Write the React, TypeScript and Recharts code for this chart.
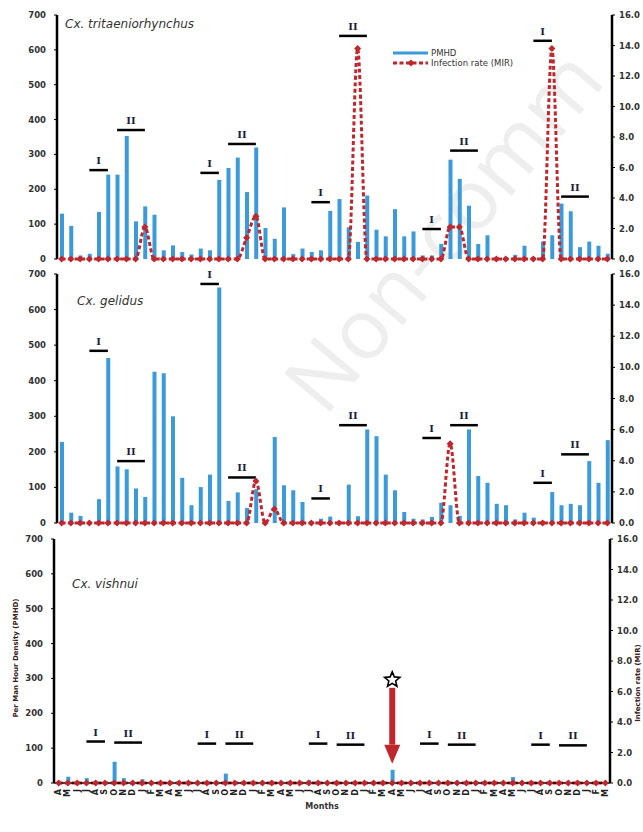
import React from "react";
import {
    ComposedChart,
    Bar,
    Line,
    XAxis,
    YAxis,
    ReferenceLine,
    ReferenceDot,
} from "recharts";

// month initials, April to March, five seasons
const yearMonths = ["A", "M", "J", "J", "A", "S", "O", "N", "D", "J", "F", "M"];
const monthTicks = [1, 2, 3, 4, 5].flatMap(() => yearMonths);

const leftTicks = [0, 100, 200, 300, 400, 500, 600, 700];
const rightTicks = [0, 2, 4, 6, 8, 10, 12, 14, 16];

// Cx. tritaeniorhynchus
const tritPmhd = [
    130, 95, 10, 15, 135, 242, 242, 353, 108, 151,
    127, 25, 39, 20, 13, 30, 25, 227, 261, 291,
    192, 320, 89, 58, 148, 14, 30, 20, 25, 138,
    172, 91, 49, 182, 84, 65, 143, 65, 79, 10,
    10, 43, 285, 230, 153, 43, 68, 5, 5, 12,
    38, 5, 50, 68, 159, 137, 34, 50, 38, 15,
];
const tritMir = [
    0, 0, 0, 0, 0, 0, 0, 0, 0, 2.1,
    0, 0, 0, 0, 0, 0, 0, 0, 0, 0,
    1.4, 2.8, 0, 0, 0, 0, 0, 0, 0, 0,
    0, 0, 13.8, 0, 0, 0, 0, 0, 0, 0,
    0, 0, 2.1, 2.1, 0, 0, 0, 0, 0, 0,
    0, 0, 0, 13.8, 0, 0, 0, 0, 0, 0,
];

// Cx. gelidus
const gelPmhd = [
    228, 29, 20, 0, 67, 464, 159, 151, 97, 73,
    425, 421, 300, 127, 50, 101, 136, 662, 62, 86,
    42, 95, 5, 242, 106, 92, 59, 5, 12, 18,
    3, 108, 19, 263, 244, 136, 92, 31, 12, 10,
    17, 57, 50, 20, 263, 132, 113, 54, 50, 10,
    29, 15, 5, 87, 50, 54, 50, 174, 113, 233,
];
const gelMir = [
    0, 0, 0, 0, 0, 0, 0, 0, 0, 0,
    0, 0, 0, 0, 0, 0, 0, 0, 0, 0,
    0, 2.7, 0, 0.9, 0, 0, 0, 0, 0, 0,
    0, 0, 0, 0, 0, 0, 0, 0, 0, 0,
    0, 0, 5.1, 0, 0, 0, 0, 0, 0, 0,
    0, 0, 0, 0, 0, 0, 0, 0, 0, 0,
];

// Cx. vishnui
const visPmhd = [
    0, 18, 6, 14, 0, 0, 61, 14, 0, 11,
    0, 0, 0, 0, 0, 0, 0, 0, 27, 0,
    0, 0, 0, 0, 0, 0, 0, 8, 0, 0,
    0, 0, 0, 0, 0, 0, 38, 0, 0, 0,
    0, 0, 0, 0, 0, 0, 0, 0, 0, 17,
    0, 0, 0, 0, 0, 0, 0, 0, 0, 0,
];
const visMir = [
    0, 0, 0, 0, 0, 0, 0, 0, 0, 0,
    0, 0, 0, 0, 0, 0, 0, 0, 0, 0,
    0, 0, 0, 0, 0, 0, 0, 0, 0, 0,
    0, 0, 0, 0, 0, 0, 0, 0, 0, 0,
    0, 0, 0, 0, 0, 0, 0, 0, 0, 0,
    0, 0, 0, 0, 0, 0, 0, 0, 0, 0,
];

// transmission phases I / II
const phaseLabels = ["I", "II", "I", "II", "I", "II", "I", "II", "I", "II"];
const phaseStart = [3, 6, 15, 18, 27, 30, 39, 42, 51, 54];
const phaseEnd = [5, 9, 17, 21, 29, 33, 41, 45, 53, 57];
const tritPhaseLevel = [255, 370, 247, 330, 163, 640, 86, 311, 626, 179];
const gelPhaseLevel = [484, 174, 672, 128, 69, 275, 239, 275, 113, 193];
const visPhaseLevel = [119, 116, 113, 113, 113, 110, 113, 110, 110, 108];

// JEV positive pool marker in Cx. vishnui
const arrowIndex = 36;
const arrowTop = 273;
const arrowBase = 110;
const starLevel = 296;

const BLUE = "#3b9ad9";
const RED = "#c0272d";
const TICK = { fontSize: 8.5, fill: "#333", fontWeight: "bold" as const };

const Diamond = (props: any) => {
    const { cx, cy, index } = props;
    if (cx == null || cy == null) return null;
    return (
        <path
            key={`dm-${index}`}
            d={`M${cx},${cy - 3.5}L${cx + 3.5},${cy}L${cx},${cy + 3.5}L${cx - 3.5},${cy}Z`}
            fill={RED}
        />
    );
};

const MonthTick = (props: any) => {
    const { x, y, payload } = props;
    return (
        <text
            x={x}
            y={y}
            transform={`rotate(-90 ${x} ${y})`}
            textAnchor="end"
            dominantBaseline="central"
            fontSize={8}
            fontWeight="bold"
            fill="#222"
        >
            {monthTicks[payload.value]}
        </text>
    );
};

const ArrowHead = (props: any) => {
    const { cx, cy } = props;
    return <polygon points={`${cx - 8},${cy} ${cx + 8},${cy} ${cx},${cy + 19}`} fill={RED} />;
};

const Star = (props: any) => {
    const { cx, cy } = props;
    const pts: string[] = [];
    for (let k = 0; k < 10; k++) {
        const r = k % 2 === 0 ? 8 : 3.6;
        const a = -Math.PI / 2 + (k * Math.PI) / 5;
        pts.push(`${cx + r * Math.cos(a)},${cy + r * Math.sin(a)}`);
    }
    return <polygon points={pts.join(" ")} fill="#fff" stroke="#000" strokeWidth={1.6} />;
};

type PanelProps = {
    pmhd: number[];
    mir: number[];
    levels: number[];
    top: number;
    height: number;
    marginTop: number;
    marginBottom: number;
    leftW: number;
    rightW: number;
    showMonths?: boolean;
    children?: React.ReactNode;
};

function Panel(p: PanelProps) {
    const data = p.pmhd.map((v, i) => ({ i, pmhd: v, mir: p.mir[i] }));
    return (
        <div style={{ position: "absolute", left: 0, top: p.top }}>
            <ComposedChart
                width={643}
                height={p.height}
                data={data}
                margin={{ top: p.marginTop, right: 0, bottom: p.marginBottom, left: 0 }}
            >
                <XAxis
                    dataKey="i"
                    type="category"
                    hide={!p.showMonths}
                    interval={0}
                    height={45}
                    tickLine={false}
                    tickSize={4}
                    tickMargin={2}
                    axisLine={{ stroke: "#000", strokeWidth: 1.5 }}
                    tick={<MonthTick />}
                />
                <YAxis
                    yAxisId="left"
                    width={p.leftW}
                    domain={[0, 700]}
                    ticks={leftTicks}
                    interval={0}
                    axisLine={{ stroke: "#000", strokeWidth: 2.5 }}
                    tickLine={{ stroke: "#000" }}
                    tickSize={3}
                    tickMargin={8}
                    tick={TICK}
                />
                <YAxis
                    yAxisId="right"
                    orientation="right"
                    width={p.rightW}
                    domain={[0, 16]}
                    ticks={rightTicks}
                    interval={0}
                    tickFormatter={(v: number) => v.toFixed(1)}
                    axisLine={{ stroke: "#000", strokeWidth: 2.5 }}
                    tickLine={{ stroke: "#000" }}
                    tickSize={3}
                    tickMargin={4}
                    tick={TICK}
                />
                <Bar
                    yAxisId="left"
                    dataKey="pmhd"
                    name="PMHD"
                    fill={BLUE}
                    barSize={4}
                    isAnimationActive={false}
                />
                <Line
                    yAxisId="right"
                    dataKey="mir"
                    name="Infection rate (MIR)"
                    type="monotone"
                    stroke={RED}
                    strokeWidth={3}
                    strokeDasharray="4 2.5"
                    dot={<Diamond />}
                    activeDot={false}
                    isAnimationActive={false}
                />
                {phaseLabels.map((lab, k) => (
                    <ReferenceLine
                        key={`ph-${k}`}
                        yAxisId="left"
                        segment={[
                            { x: phaseStart[k], y: p.levels[k] },
                            { x: phaseEnd[k], y: p.levels[k] },
                        ]}
                        stroke="#000"
                        strokeWidth={2.5}
                        label={{
                            value: lab,
                            position: "top",
                            offset: 6,
                            fill: "#1c1c3c",
                            fontSize: 10,
                            fontWeight: "bold",
                            fontFamily: "DejaVu Serif",
                        }}
                    />
                ))}
                {p.children}
            </ComposedChart>
        </div>
    );
}

export default function App() {
    return (
        <div
            style={{
                position: "absolute",
                left: 0,
                top: 0,
                width: 643,
                height: 832,
                background: "#fff",
                overflow: "hidden",
                fontFamily: "DejaVu Sans",
            }}
        >
            {/* faint watermark */}
            <svg width={643} height={832} style={{ position: "absolute", left: 0, top: 0 }}>
                <text
                    x={325}
                    y={418}
                    transform="rotate(-50 325 418)"
                    fontSize={84}
                    fill="#eeeeee"
                    fontFamily="Open Sans"
                >
                    Non-comm
                </text>
            </svg>

            <Panel
                pmhd={tritPmhd}
                mir={tritMir}
                levels={tritPhaseLevel}
                top={0}
                height={265}
                marginTop={15}
                marginBottom={6}
                leftW={57}
                rightW={31}
            />
            <Panel
                pmhd={gelPmhd}
                mir={gelMir}
                levels={gelPhaseLevel}
                top={262}
                height={266}
                marginTop={12}
                marginBottom={5}
                leftW={57}
                rightW={31}
            />
            <Panel
                pmhd={visPmhd}
                mir={visMir}
                levels={visPhaseLevel}
                top={528}
                height={300}
                marginTop={11}
                marginBottom={0}
                leftW={54}
                rightW={33}
                showMonths
            >
                <ReferenceLine
                    yAxisId="left"
                    segment={[
                        { x: arrowIndex, y: arrowTop },
                        { x: arrowIndex, y: arrowBase },
                    ]}
                    stroke={RED}
                    strokeWidth={6}
                />
                <ReferenceDot yAxisId="left" x={arrowIndex} y={arrowBase} shape={ArrowHead} />
                <ReferenceDot yAxisId="left" x={arrowIndex} y={starLevel} shape={Star} />
            </Panel>

            {/* titles, legend, axis titles */}
            <svg
                width={643}
                height={832}
                style={{ position: "absolute", left: 0, top: 0, pointerEvents: "none" }}
            >
                <g fontStyle="italic" fontSize={12} fill="#333">
                    <text x={65} y={28}>Cx. tritaeniorhynchus</text>
                    <text x={77} y={305}>Cx. gelidus</text>
                    <text x={72} y={588}>Cx. vishnui</text>
                </g>

                <line x1={393} y1={53} x2={428} y2={53} stroke={BLUE} strokeWidth={3} />
                <line
                    x1={393}
                    y1={63}
                    x2={428}
                    y2={63}
                    stroke={RED}
                    strokeWidth={3}
                    strokeDasharray="4 2.5"
                />
                <path d="M411,59.5L414.5,63L411,66.5L407.5,63Z" fill={RED} />
                <g fontSize={8.5} fill="#333">
                    <text x={431} y={53} dominantBaseline="central">PMHD</text>
                    <text x={431} y={63} dominantBaseline="central">Infection rate (MIR)</text>
                </g>

                <text
                    x={16}
                    y={658}
                    transform="rotate(-90 16 658)"
                    textAnchor="middle"
                    dominantBaseline="central"
                    fontSize={7}
                    fontWeight="bold"
                    fill="#3a2020"
                >
                    Per Man Hour Density (PMHD)
                </text>
                <text
                    x={638}
                    y={683}
                    transform="rotate(-90 638 683)"
                    textAnchor="middle"
                    dominantBaseline="central"
                    fontSize={7}
                    fontWeight="bold"
                    fill="#3a2020"
                >
                    Infection rate (MIR)
                </text>
                <text
                    x={322}
                    y={806}
                    textAnchor="middle"
                    dominantBaseline="central"
                    fontSize={8}
                    fontWeight="bold"
                    fill="#333"
                >
                    Months
                </text>
            </svg>
        </div>
    );
}
